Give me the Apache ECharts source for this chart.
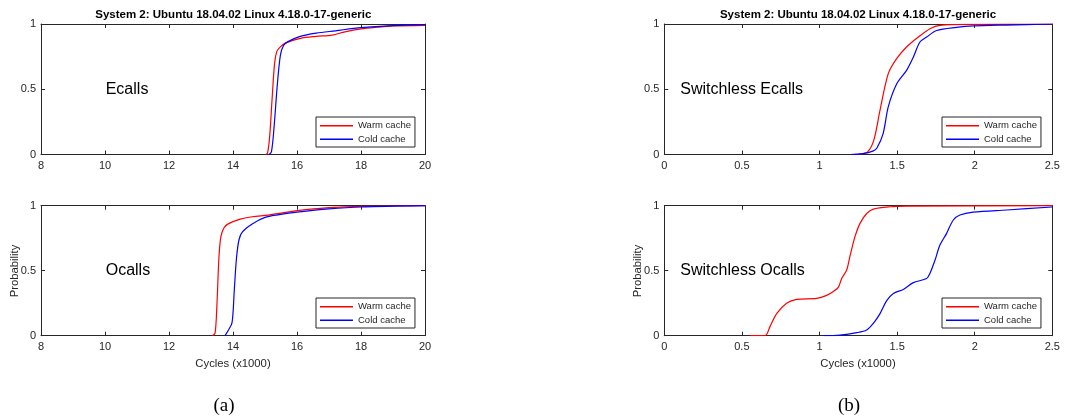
<!DOCTYPE html>
<html>
<head>
<meta charset="utf-8">
<script src="https://cdn.jsdelivr.net/npm/echarts@6/dist/echarts.min.js"></script>
<style>
html,body{margin:0;padding:0;background:#fff;}
#c{width:1073px;height:419px;}
</style>
</head>
<body>
<div id="c"></div>
<script>
// ---- data ----
const titleText = 'System 2: Ubuntu 18.04.02 Linux 4.18.0-17-generic';
const panelLabels = ['Ecalls', 'Ocalls', 'Switchless Ecalls', 'Switchless Ocalls'];
const seriesNames = ['Warm cache', 'Cold cache'];
const xTicksA = [8, 10, 12, 14, 16, 18, 20];
const xTicksB = [0, 0.5, 1, 1.5, 2, 2.5];
const yTicks = [0, 0.5, 1];
const xAxisTitle = 'Cycles (x1000)';
const yAxisTitle = 'Probability';
const subLabels = ['(a)', '(b)'];

const ecallWarm = [[15.02,0],[15.08,0.01],[15.15,0.15],[15.22,0.42],[15.3,0.7],[15.37,0.79],[15.48,0.825],[15.65,0.855],[16.1,0.89],[16.6,0.905],[17.1,0.915],[17.5,0.94],[18,0.962],[18.5,0.975],[19,0.985],[20,0.99]];
const ecallCold = [[15.12,0],[15.2,0.02],[15.28,0.2],[15.38,0.52],[15.48,0.76],[15.58,0.835],[15.72,0.865],[16.1,0.905],[16.6,0.93],[17.2,0.948],[18,0.972],[19,0.988],[20,0.995]];
const ocallWarm = [[13.35,0],[13.44,0.02],[13.5,0.25],[13.56,0.6],[13.62,0.76],[13.72,0.83],[13.85,0.86],[14.2,0.895],[14.6,0.915],[15.1,0.928],[15.8,0.954],[16.2,0.968],[17,0.985],[18,0.995],[20,1]];
const ocallCold = [[13.75,0],[13.85,0.04],[13.97,0.1],[14.04,0.35],[14.11,0.6],[14.19,0.74],[14.3,0.8],[14.6,0.86],[15.0,0.91],[15.4,0.93],[16,0.95],[17,0.975],[18,0.99],[20,1]];
const swEcallWarm = [[1.2,0],[1.26,0.003],[1.31,0.02],[1.35,0.11],[1.39,0.34],[1.443,0.62],[1.497,0.735],[1.561,0.824],[1.637,0.9],[1.712,0.964],[1.776,0.99],[1.99,0.997],[2.5,1]];
const swEcallCold = [[1.2,0],[1.28,0.006],[1.347,0.028],[1.37,0.05],[1.41,0.16],[1.443,0.365],[1.497,0.54],[1.561,0.645],[1.605,0.747],[1.647,0.862],[1.69,0.9],[1.755,0.95],[1.884,0.974],[1.99,0.985],[2.2,0.992],[2.5,1]];
const swOcallWarm = [[0.552,0],[0.649,0],[0.681,0.07],[0.724,0.17],[0.788,0.25],[0.853,0.28],[0.982,0.287],[1.046,0.31],[1.089,0.34],[1.121,0.372],[1.143,0.44],[1.175,0.505],[1.196,0.61],[1.229,0.764],[1.261,0.864],[1.304,0.94],[1.347,0.974],[1.454,0.992],[1.561,0.997],[2.5,1]];
const swOcallCold = [[1.024,0],[1.132,0.005],[1.24,0.023],[1.304,0.044],[1.347,0.095],[1.39,0.17],[1.433,0.27],[1.476,0.325],[1.54,0.356],[1.605,0.408],[1.69,0.44],[1.712,0.48],[1.744,0.58],[1.776,0.697],[1.819,0.787],[1.862,0.89],[1.905,0.928],[1.99,0.95],[2.206,0.967],[2.5,0.99]];

// ---- layout ----
const FONT = '"Liberation Sans", Arial, Helvetica, sans-serif';
const AX = '#262626';
const grids = [
  {left: 41, top: 24, width: 384, height: 130.5},
  {left: 41, top: 205.7, width: 384, height: 130},
  {left: 664.3, top: 24, width: 388, height: 130.5},
  {left: 664.3, top: 205.7, width: 388, height: 130}
];
const panelTicks = [xTicksA, xTicksA, xTicksB, xTicksB];
const panelData = [[ecallWarm, ecallCold], [ocallWarm, ocallCold], [swEcallWarm, swEcallCold], [swOcallWarm, swOcallCold]];
const colors = ['#ff0000', '#0000ff'];

const xAxes = [], yAxes = [], series = [], legends = [];
grids.forEach((g, i) => {
  const xt = panelTicks[i];
  const xBase = {
    gridIndex: i, type: 'value', min: xt[0], max: xt[xt.length - 1], interval: xt[1] - xt[0],
    axisLine: {show: true, onZero: false, lineStyle: {color: AX, width: 1}},
    axisTick: {show: true, inside: true, length: 4, lineStyle: {color: AX}},
    splitLine: {show: false}
  };
  xAxes.push(Object.assign({}, xBase, {position: 'bottom',
    axisLabel: {show: true, margin: 6, color: AX, fontSize: 11, fontFamily: FONT, formatter: v => String(v)}}));
  xAxes.push(Object.assign({}, xBase, {position: 'top', axisLabel: {show: false}}));
  const yBase = {
    gridIndex: i, type: 'value', min: yTicks[0], max: yTicks[yTicks.length - 1], interval: yTicks[1] - yTicks[0],
    axisLine: {show: true, onZero: false, lineStyle: {color: AX, width: 1}},
    axisTick: {show: true, inside: true, length: 4, lineStyle: {color: AX}},
    splitLine: {show: false}
  };
  yAxes.push(Object.assign({}, yBase, {position: 'left',
    axisLabel: {show: true, margin: 5, color: AX, fontSize: 11, fontFamily: FONT, formatter: v => String(v)}}));
  yAxes.push(Object.assign({}, yBase, {position: 'right', axisLabel: {show: false}}));
  panelData[i].forEach((d, k) => {
    series.push({
      name: seriesNames[k], type: 'line', xAxisIndex: 2 * i, yAxisIndex: 2 * i,
      data: d, showSymbol: false, symbol: 'none', smooth: 0.3,
      lineStyle: {color: colors[k], width: 1.2}, itemStyle: {color: colors[k]}, z: 3
    });
  });
  const lg = [316, 316, 942, 942][i];
  const tg = [117, 298, 117, 298][i];
  legends.push({
    left: lg, top: tg, orient: 'vertical', data: seriesNames, icon: 'rect',
    itemWidth: 33, itemHeight: 1.5, itemGap: 2.6, padding: [3.2, 4, 2.2, 4],
    borderColor: AX, borderWidth: 1, backgroundColor: '#fff', selectedMode: false,
    textStyle: {fontSize: 9.5, fontFamily: FONT, color: AX, lineHeight: 11}
  });
});

const textEl = (x, y, text, size, opts) => Object.assign({
  type: 'text', x: x, y: y, z: 100,
  style: Object.assign({text: text, font: size + 'px ' + FONT, fill: '#000', align: 'center', verticalAlign: 'middle'}, opts || {})
});
const graphics = [
  textEl(233.3, 15, titleText, 11.5, {font: 'bold 11.5px ' + FONT, fill: '#000'}),
  textEl(858, 15, titleText, 11.5, {font: 'bold 11.5px ' + FONT, fill: '#000'}),
  textEl(105.7, 90, panelLabels[0], 16, {align: 'left'}),
  textEl(105.7, 271, panelLabels[1], 16, {align: 'left'}),
  textEl(680.3, 90, panelLabels[2], 16, {align: 'left'}),
  textEl(680.3, 271, panelLabels[3], 16, {align: 'left'}),
  textEl(233, 364, xAxisTitle, 11.3, {fill: AX}),
  textEl(858, 364, xAxisTitle, 11.3, {fill: AX}),
  Object.assign(textEl(15, 271, yAxisTitle, 11.3, {fill: AX}), {rotation: Math.PI / 2}),
  Object.assign(textEl(637.7, 271, yAxisTitle, 11.3, {fill: AX}), {rotation: Math.PI / 2}),
  textEl(224, 406, subLabels[0], 19, {font: '19px "Liberation Serif", "Times New Roman", serif'}),
  textEl(849, 406, subLabels[1], 19, {font: '19px "Liberation Serif", "Times New Roman", serif'})
];

const chart = echarts.init(document.getElementById('c'), null, {renderer: 'canvas'});
chart.setOption({
  backgroundColor: '#fff',
  animation: false,
  grid: grids.map(g => Object.assign({containLabel: false}, g)),
  xAxis: xAxes, yAxis: yAxes, series: series, legend: legends, graphic: graphics
});
</script>
</body>
</html>
